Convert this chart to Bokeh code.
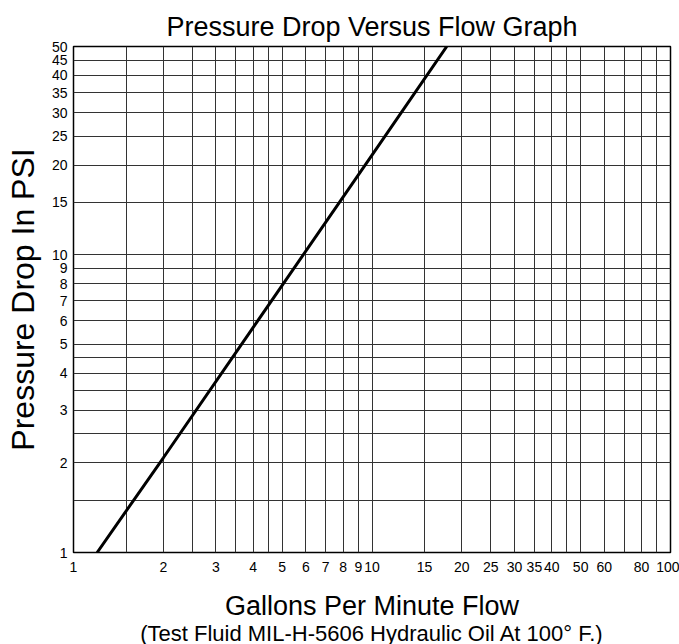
from bokeh.plotting import figure
from bokeh.models import FixedTicker, CustomJSTickFormatter, Title
from bokeh.embed import file_html
from bokeh.resources import INLINE

# Data
flow_gpm = [1.2, 2.0, 4.0, 10.0, 17.8]
pressure_psi = [1.0, 2.08, 5.7, 21.6, 50.0]

x_grid = [1, 1.5, 2, 2.5, 3, 3.5, 4, 4.5, 5, 6, 7, 8, 9, 10, 15, 20, 25, 30, 35, 40, 45, 50, 60, 70, 80, 90, 100]
x_labels = [1, 2, 3, 4, 5, 6, 7, 8, 9, 10, 15, 20, 25, 30, 35, 40, 50, 60, 80, 100]
y_grid = [1, 1.5, 2, 2.5, 3, 3.5, 4, 4.5, 5, 6, 7, 8, 9, 10, 15, 20, 25, 30, 35, 40, 45, 50]
y_labels = [1, 2, 3, 4, 5, 6, 7, 8, 9, 10, 15, 20, 25, 30, 35, 40, 45, 50]

FONT = "Liberation Sans"

p = figure(width=679, height=644, x_axis_type="log", y_axis_type="log",
           x_range=(1, 100), y_range=(1, 50),
           output_backend="svg", toolbar_location=None,
           min_border_left=73, min_border_right=9, min_border_top=46, min_border_bottom=92)

p.title.text = "Pressure Drop Versus Flow Graph"
p.title.align = "center"
p.title.text_font = FONT
p.title.text_font_size = "27px"
p.title.text_font_style = "normal"
p.title.text_color = "black"
p.title.standoff = 10

p.line(flow_gpm, pressure_psi, line_color="black", line_width=3)

fmt_code = "return labels.includes(tick) ? tick.toString() : '';"
p.xaxis.ticker = FixedTicker(ticks=x_grid, minor_ticks=[])
p.xaxis.formatter = CustomJSTickFormatter(args=dict(labels=x_labels), code=fmt_code)
p.yaxis.ticker = FixedTicker(ticks=y_grid, minor_ticks=[])
p.yaxis.formatter = CustomJSTickFormatter(args=dict(labels=y_labels), code=fmt_code)

for ax in (p.xaxis, p.yaxis):
    ax.major_tick_in = 0
    ax.major_tick_out = 0
    ax.minor_tick_in = 0
    ax.minor_tick_out = 0
    ax.axis_line_color = None
    ax.major_label_text_font = FONT
    ax.major_label_text_font_size = "14px"
    ax.major_label_text_color = "black"
    ax.axis_label_text_font = FONT
    ax.axis_label_text_font_style = "normal"
    ax.axis_label_text_color = "black"

p.xaxis.axis_label = "Gallons Per Minute Flow"
p.xaxis.axis_label_text_font_size = "27px"
p.xaxis.major_label_standoff = 9
p.xaxis.axis_label_standoff = 16
p.yaxis.axis_label = "Pressure Drop In PSI"
p.yaxis.axis_label_text_font_size = "32px"
p.yaxis.major_label_standoff = 6
p.yaxis.axis_label_standoff = 8

sub = Title(text="(Test Fluid MIL-H-5606 Hydraulic Oil At 100\u00b0 F.)", align="center",
            text_font=FONT, text_font_size="22px", text_font_style="normal",
            text_color="black", standoff=-10)
p.add_layout(sub, "below")

p.xgrid.grid_line_color = "#333333"
p.ygrid.grid_line_color = "#333333"
p.xgrid.grid_line_width = 1
p.ygrid.grid_line_width = 1

p.outline_line_color = "black"
p.outline_line_width = 1.5
p.background_fill_color = "white"
p.border_fill_color = "white"

open("out.html", "w").write(file_html(p, INLINE))
